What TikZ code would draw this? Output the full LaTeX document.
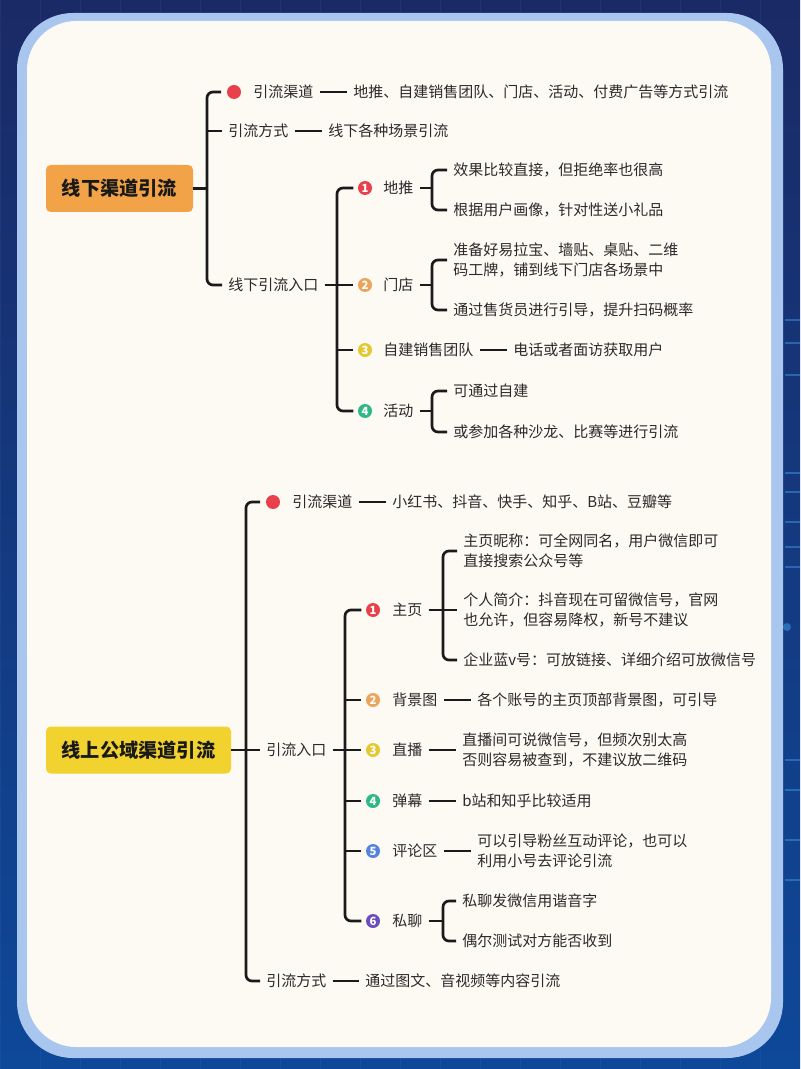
\documentclass[tikz,border=0pt]{standalone}
\usepackage{fontspec}
\setmainfont{Noto Sans CJK SC}
\definecolor{bgtop}{HTML}{1A2A66}
\definecolor{bgbot}{HTML}{0E4899}
\definecolor{frameC}{HTML}{A9C6EE}
\definecolor{panelC}{HTML}{FDFAF4}
\definecolor{orangeC}{HTML}{F2A247}
\definecolor{yellowC}{HTML}{F1D22F}
\definecolor{redC}{HTML}{E8414B}
\definecolor{orangeN}{HTML}{EBA45C}
\definecolor{yellowN}{HTML}{E3C832}
\definecolor{greenN}{HTML}{2EB886}
\definecolor{blueN}{HTML}{5483DD}
\definecolor{purpleN}{HTML}{6B4EBB}
\definecolor{txt}{HTML}{2A2A2A}
\definecolor{lineC}{HTML}{1A1A1A}
\definecolor{circuitC}{HTML}{3C8FD8}
\begin{document}
\begin{tikzpicture}[x=0.75pt,y=-0.75pt,
  conn/.style={line width=2pt, draw=lineC, rounded corners=4.5pt},
  lbl/.style={anchor=west, inner xsep=4.5pt, inner ysep=0pt, text=txt, font=\fontsize{11.25pt}{15pt}\selectfont, align=left},
  bdot/.style={circle, fill=#1, minimum size=10.5pt, inner sep=0pt, outer sep=4.5pt},
  numc/.style={circle, fill=#1, minimum size=10.5pt, inner sep=0pt, outer sep=3.5pt, text=white, font=\fontsize{8.5pt}{8.5pt}\selectfont\bfseries},
  rootbox/.style={rounded corners=3.5pt, fill=#1, minimum height=35.25pt, inner sep=0pt, text=black!90, font=\fontsize{14.4pt}{16pt}\selectfont\bfseries},
  circuit/.style={draw=circuitC, line width=1.2pt, opacity=0.55}
]
\useasboundingbox (0,0) rectangle (800,1069);
\shade[top color=bgtop, bottom color=bgbot] (0,0) rectangle (800,1069);
\draw[white, opacity=0.04, line width=0.5pt, step=40] (0,0) grid (800,1069);
\foreach \yy in {320,343,375,473,492,522,547,567,760,790,840,880} {
  \draw[circuit] (785,\yy) -- (800,\yy);
}
\fill[circuitC, opacity=0.6] (787,627) circle (4);
\fill[frameC, rounded corners=42pt] (17,13) rectangle (783,1058);
\fill[panelC, rounded corners=37pt] (27,21) rectangle (771,1047);

% ---------- top tree ----------
\coordinate (s1) at (207,0);
\coordinate (s2) at (337,0);
\coordinate (b1) at (432,0);

\node[rootbox=orangeC, minimum width=110.25pt] (r1) at (119.5,188.5) {线下渠道引流};

\node[bdot=redC] (d1) at (234,92) {};
\node[lbl] (a1) at (247,92) {引流渠道};
\node[lbl] (a1l) at (347,92) {地推、自建销售团队、门店、活动、付费广告等方式引流};
\node[lbl] (a2) at (222,131) {引流方式};
\node[lbl] (a2l) at (322,131) {线下各种场景引流};
\node[lbl] (a3) at (222,285) {线下引流入口};

\node[numc=redC] (n1) at (365,188) {1};
\node[lbl] (t1) at (377,188) {地推};
\node[lbl] (l11) at (447,170) {效果比较直接，但拒绝率也很高};
\node[lbl] (l12) at (447,210) {根据用户画像，针对性送小礼品};
\node[numc=orangeN] (n2) at (365,285) {2};
\node[lbl] (t2) at (377,285) {门店};
\node[lbl] (l21) at (447,260) {准备好易拉宝、墙贴、桌贴、二维\\码工牌，铺到线下门店各场景中};
\node[lbl] (l22) at (447,310) {通过售货员进行引导，提升扫码概率};
\node[numc=yellowN] (n3) at (365,350) {3};
\node[lbl] (t3) at (377,350) {自建销售团队};
\node[lbl] (l3) at (507,350) {电话或者面访获取用户};
\node[numc=greenN] (n4) at (365,411) {4};
\node[lbl] (t4) at (377,411) {活动};
\node[lbl] (l41) at (447,391) {可通过自建};
\node[lbl] (l42) at (447,432) {或参加各种沙龙、比赛等进行引流};

\draw[conn] (r1.east) -- (s1 |- r1.east);
\draw[conn] (d1.west) -- (s1 |- d1.west) -- (s1 |- a3.west) -- (a3.west);
\draw[conn] (a2.west) -- (s1 |- a2.west);
\draw[conn] (a1.east) -- (a1l.west);
\draw[conn] (a2.east) -- (a2l.west);
\draw[conn] (n1.west) -- (s2 |- n1.west) -- (s2 |- n4.west) -- (n4.west);
\draw[conn] (a3.east) -- (n2.west);
\draw[conn] (n3.west) -- (s2 |- n3.west);
\draw[conn] (t1.east) -- (b1 |- t1.east);
\draw[conn] (l11.west) -- (b1 |- l11.west) -- (b1 |- l12.west) -- (l12.west);
\draw[conn] (t2.east) -- (b1 |- t2.east);
\draw[conn] (l21.west) -- (b1 |- l21.west) -- (b1 |- l22.west) -- (l22.west);
\draw[conn] (t3.east) -- (l3.west);
\draw[conn] (t4.east) -- (b1 |- t4.east);
\draw[conn] (l41.west) -- (b1 |- l41.west) -- (b1 |- l42.west) -- (l42.west);

% ---------- bottom tree ----------
\coordinate (s3) at (246,0);
\coordinate (s4) at (345,0);
\coordinate (b2) at (443,0);

\node[rootbox=yellowC, minimum width=138.75pt] (r2) at (138.5,750) {线上公域渠道引流};

\node[bdot=redC] (d2) at (273,502) {};
\node[lbl] (c1) at (286,502) {引流渠道};
\node[lbl] (c1l) at (386,502) {小红书、抖音、快手、知乎、B站、豆瓣等};
\node[lbl] (c2) at (260,750) {引流入口};
\node[lbl] (c3) at (260,981) {引流方式};
\node[lbl] (c3l) at (359,981) {通过图文、音视频等内容引流};

\node[numc=redC] (m1) at (373,610) {1};
\node[lbl] (u1) at (386,610) {主页};
\node[lbl] (k11) at (457,551) {主页昵称：可全网同名，用户微信即可\\直接搜索公众号等};
\node[lbl] (k12) at (457,610) {个人简介：抖音现在可留微信号，官网\\也允许，但容易降权，新号不建议};
\node[lbl] (k13) at (457,660) {企业蓝v号：可放链接、详细介绍可放微信号};
\node[numc=orangeN] (m2) at (373,700) {2};
\node[lbl] (u2) at (386,700) {背景图};
\node[lbl] (k2) at (471,700) {各个账号的主页顶部背景图，可引导};
\node[numc=yellowN] (m3) at (373,750) {3};
\node[lbl] (u3) at (386,750) {直播};
\node[lbl] (k3) at (456,750) {直播间可说微信号，但频次别太高\\否则容易被查到，不建议放二维码};
\node[numc=greenN] (m4) at (373,801) {4};
\node[lbl] (u4) at (386,801) {弹幕};
\node[lbl] (k4) at (456,801) {b站和知乎比较适用};
\node[numc=blueN] (m5) at (373,851) {5};
\node[lbl] (u5) at (386,851) {评论区};
\node[lbl] (k5) at (471,851) {可以引导粉丝互动评论，也可以\\利用小号去评论引流};
\node[numc=purpleN] (m6) at (373,921) {6};
\node[lbl] (u6) at (386,921) {私聊};
\node[lbl] (k61) at (456,901) {私聊发微信用谐音字};
\node[lbl] (k62) at (456,941) {偶尔测试对方能否收到};

\draw[conn] (r2.east) -- (c2.west);
\draw[conn] (d2.west) -- (s3 |- d2.west) -- (s3 |- c3.west) -- (c3.west);
\draw[conn] (c1.east) -- (c1l.west);
\draw[conn] (c3.east) -- (c3l.west);
\draw[conn] (m1.west) -- (s4 |- m1.west) -- (s4 |- m6.west) -- (m6.west);
\draw[conn] (c2.east) -- (m3.west);
\draw[conn] (m2.west) -- (s4 |- m2.west);
\draw[conn] (m4.west) -- (s4 |- m4.west);
\draw[conn] (m5.west) -- (s4 |- m5.west);
\draw[conn] (u1.east) -- (k12.west);
\draw[conn] (k11.west) -- (b2 |- k11.west) -- (b2 |- k13.west) -- (k13.west);
\draw[conn] (u2.east) -- (k2.west);
\draw[conn] (u3.east) -- (k3.west);
\draw[conn] (u4.east) -- (k4.west);
\draw[conn] (u5.east) -- (k5.west);
\draw[conn] (u6.east) -- (b2 |- u6.east);
\draw[conn] (k61.west) -- (b2 |- k61.west) -- (b2 |- k62.west) -- (k62.west);
\end{tikzpicture}
\end{document}
